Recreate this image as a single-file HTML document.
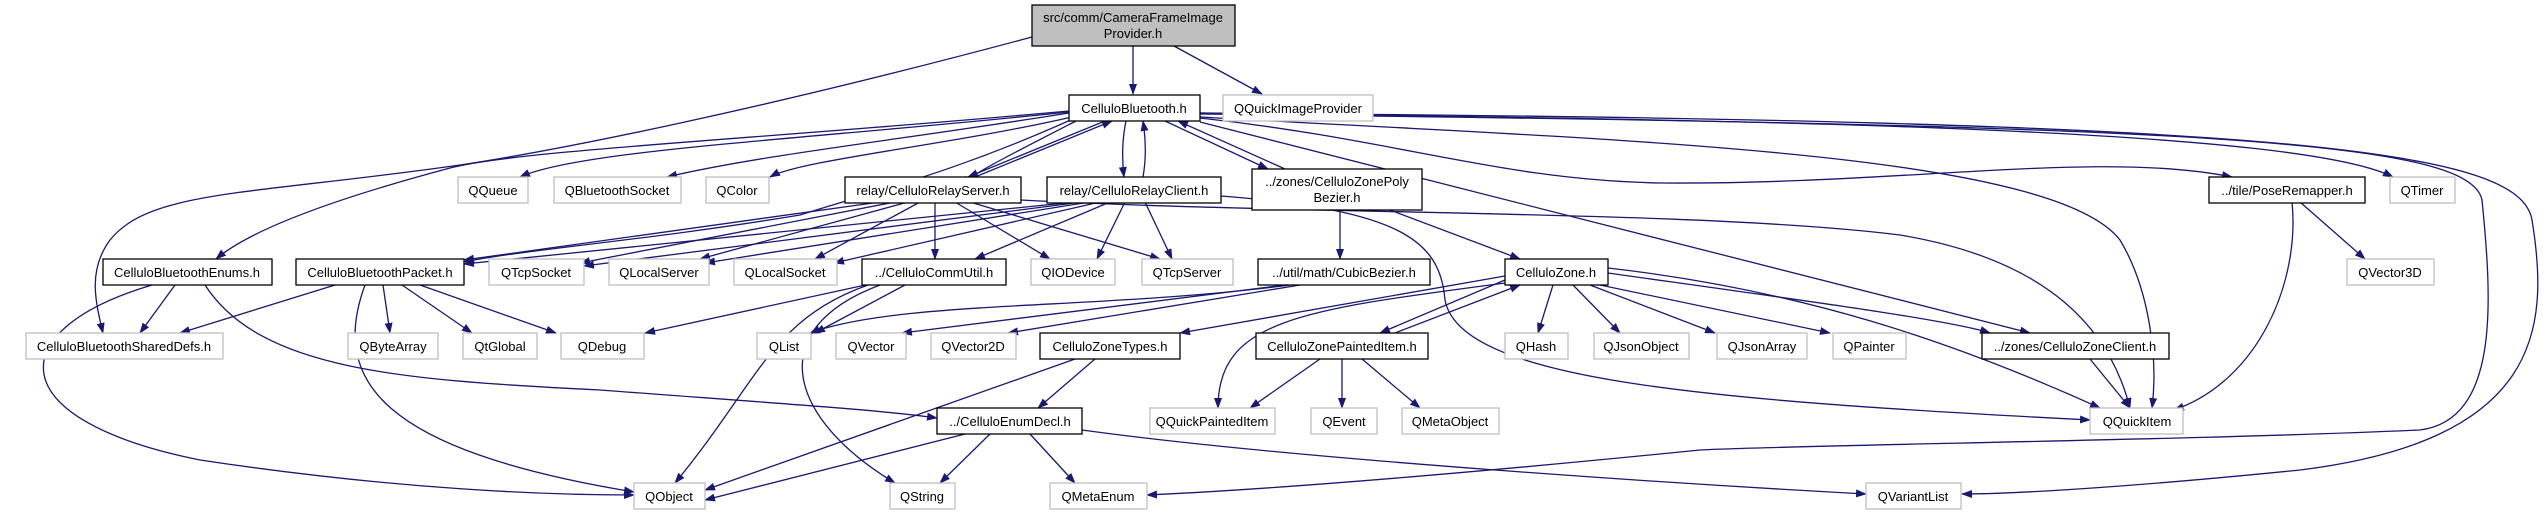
<!DOCTYPE html>
<html><head><meta charset="utf-8"><style>
html,body{margin:0;padding:0;background:#fff;}
svg{display:block;}
text{font-family:"Liberation Sans",Helvetica,Arial,sans-serif;font-size:13px;fill:#000;text-anchor:middle;}
.e{fill:none;stroke:#191970;stroke-width:1.3;marker-end:url(#a);}
.b{fill:#fff;stroke:#000;stroke-width:1.3;}
.g{fill:#fff;stroke:#bfbfbf;stroke-width:1.3;}
.s{fill:#404040;}
</style></head><body>
<svg width="2543" height="515" viewBox="0 0 2543 515" xmlns="http://www.w3.org/2000/svg">
<defs><marker id="a" markerUnits="userSpaceOnUse" markerWidth="11" markerHeight="8" refX="10" refY="4" orient="auto"><path d="M0,0 L11,4 L0,8 z" fill="#191970"/></marker></defs>
<g>
<path class="e" d="M1133,46 L1133,94"/>
<path class="e" d="M1174,46 L1262,94"/>
<path class="e" d="M1032,37 C760,110 560,150 460,165 C250,195 150,190 110,240 C88,270 95,300 103,333"/>
<path class="e" d="M1069,112 C800,140 580,150 520,177"/>
<path class="e" d="M1069,113 C900,140 760,155 667,177"/>
<path class="e" d="M1072,117 C950,145 800,160 770,177"/>
<path class="e" d="M1069,111 C750,140 520,150 450,168 C330,200 250,230 216,259"/>
<path class="e" d="M1075,118 C960,170 880,190 800,215 C650,240 520,250 464,262"/>
<path class="e" d="M1078,120 C1000,160 980,170 960,185"/>
<path class="e" d="M1105,121 L968,177"/>
<path class="e" d="M975,177 L1112,121"/>
<path class="e" d="M1126,121 C1122,140 1122,160 1124,177"/>
<path class="e" d="M1143,177 C1146,160 1146,140 1143,121"/>
<path class="e" d="M1165,121 L1268,169"/>
<path class="e" d="M1285,169 L1178,121"/>
<path class="e" d="M1200,118 C1400,140 1500,180 1660,183 C1900,185 2100,150 2232,177"/>
<path class="e" d="M1200,113 C1800,120 2300,130 2393,177"/>
<path class="e" d="M1200,117 C1600,140 2050,150 2120,240 C2150,290 2158,360 2152,408"/>
<path class="e" d="M1200,122 L2030,333"/>
<path class="e" d="M1200,114 C2200,125 2470,140 2482,200 C2492,300 2500,420 2420,430 C2200,440 1800,445 1700,450 C1500,470 1300,488 1147,495"/>
<path class="e" d="M1200,113 C2300,120 2520,150 2532,220 C2550,330 2540,440 2300,470 C2100,490 2000,494 1962,494"/>
<path class="e" d="M880,202 L464,260"/>
<path class="e" d="M895,202 L580,263"/>
<path class="e" d="M908,202 L700,259"/>
<path class="e" d="M920,202 L815,259"/>
<path class="e" d="M935,202 L935,259"/>
<path class="e" d="M955,202 L1050,259"/>
<path class="e" d="M970,202 L1160,259"/>
<path class="e" d="M1021,200 C1300,215 1700,210 1900,235 C2050,260 2110,330 2130,408"/>
<path class="e" d="M1075,202 L464,264"/>
<path class="e" d="M1082,202 L584,266"/>
<path class="e" d="M1090,202 L705,263"/>
<path class="e" d="M1100,202 L834,263"/>
<path class="e" d="M1110,202 L975,259"/>
<path class="e" d="M1125,202 L1097,259"/>
<path class="e" d="M1145,202 L1172,259"/>
<path class="e" d="M1221,196 C1400,210 1440,240 1445,300 C1460,380 1700,400 2090,420"/>
<path class="e" d="M1340,210 L1340,259"/>
<path class="e" d="M1390,210 L1520,259"/>
<path class="e" d="M2300,202 L2365,259"/>
<path class="e" d="M2292,202 C2300,280 2260,380 2174,410"/>
<path class="e" d="M175,285 L140,333"/>
<path class="e" d="M152,285 C0,330 0,420 200,460 C400,490 550,495 634,495"/>
<path class="e" d="M205,285 C260,370 400,380 600,390 C800,405 880,410 937,418"/>
<path class="e" d="M335,285 L180,333"/>
<path class="e" d="M383,285 L390,333"/>
<path class="e" d="M402,285 L472,333"/>
<path class="e" d="M420,285 L556,333"/>
<path class="e" d="M365,285 C330,380 380,450 634,492"/>
<path class="e" d="M870,284 L645,333"/>
<path class="e" d="M905,285 L815,333"/>
<path class="e" d="M868,285 C770,320 760,380 675,483"/>
<path class="e" d="M880,285 C760,330 790,420 895,483"/>
<path class="e" d="M1290,285 C1100,310 900,300 810,333"/>
<path class="e" d="M1285,285 L902,333"/>
<path class="e" d="M1300,285 L1008,333"/>
<path class="e" d="M1505,276 L1180,333"/>
<path class="e" d="M1505,280 L1380,333"/>
<path class="e" d="M1395,333 L1520,285"/>
<path class="e" d="M1505,283 C1300,310 1218,320 1218,408"/>
<path class="e" d="M1553,285 L1538,333"/>
<path class="e" d="M1573,285 L1620,333"/>
<path class="e" d="M1590,285 L1715,333"/>
<path class="e" d="M1600,285 L1830,333"/>
<path class="e" d="M1608,273 C1800,300 1950,320 1990,333"/>
<path class="e" d="M1608,268 C1800,290 1950,340 2100,408"/>
<path class="e" d="M1095,359 L1038,408"/>
<path class="e" d="M1075,359 L705,490"/>
<path class="e" d="M1320,359 L1250,408"/>
<path class="e" d="M1342,359 L1342,408"/>
<path class="e" d="M1362,359 L1420,408"/>
<path class="e" d="M2090,359 L2130,408"/>
<path class="e" d="M965,434 L705,500"/>
<path class="e" d="M990,434 L940,483"/>
<path class="e" d="M1030,434 L1075,483"/>
<path class="e" d="M1082,430 C1300,460 1700,485 1866,494"/>
</g>
<g>
<rect x="1032" y="5" width="203" height="41" fill="#bfbfbf" stroke="#000" stroke-width="1.3"/>
<text x="1133" y="22">src/comm/CameraFrameImage</text><text x="1133" y="38">Provider.h</text>
<rect class="b" x="1069" y="95" width="131" height="26"/><text x="1134" y="113">CelluloBluetooth.h</text>
<rect class="g" x="1223" y="95" width="150" height="26"/><text x="1298" y="113">QQuickImageProvider</text>
<rect class="g" x="458" y="177" width="70" height="26"/><text x="493" y="195">QQueue</text>
<rect class="g" x="554" y="177" width="127" height="26"/><text x="617" y="195">QBluetoothSocket</text>
<rect class="g" x="706" y="177" width="63" height="26"/><text x="737" y="195">QColor</text>
<rect class="b" x="845" y="177" width="176" height="26"/><text x="933" y="195">relay/CelluloRelayServer.h</text>
<rect class="b" x="1047" y="177" width="174" height="26"/><text x="1134" y="195">relay/CelluloRelayClient.h</text>
<rect class="b" x="1252" y="169" width="170" height="41"/><text x="1337" y="186">../zones/CelluloZonePoly</text><text x="1337" y="202">Bezier.h</text>
<rect class="b" x="2209" y="177" width="156" height="26"/><text x="2287" y="195">../tile/PoseRemapper.h</text>
<rect class="g" x="2390" y="177" width="65" height="26"/><text x="2422" y="195">QTimer</text>
<rect class="b" x="103" y="259" width="169" height="26"/><text x="187" y="277">CelluloBluetoothEnums.h</text>
<rect class="b" x="296" y="259" width="168" height="26"/><text x="380" y="277">CelluloBluetoothPacket.h</text>
<rect class="g" x="489" y="259" width="95" height="26"/><text x="536" y="277">QTcpSocket</text>
<rect class="g" x="609" y="259" width="100" height="26"/><text x="659" y="277">QLocalServer</text>
<rect class="g" x="734" y="259" width="103" height="26"/><text x="785" y="277">QLocalSocket</text>
<rect class="b" x="862" y="259" width="144" height="26"/><text x="934" y="277">../CelluloCommUtil.h</text>
<rect class="g" x="1031" y="259" width="84" height="26"/><text x="1073" y="277">QIODevice</text>
<rect class="g" x="1142" y="259" width="91" height="26"/><text x="1187" y="277">QTcpServer</text>
<rect class="b" x="1258" y="259" width="172" height="26"/><text x="1344" y="277">../util/math/CubicBezier.h</text>
<rect class="b" x="1505" y="259" width="103" height="26"/><text x="1556" y="277">CelluloZone.h</text>
<rect class="g" x="2347" y="259" width="87" height="26"/><text x="2390" y="277">QVector3D</text>
<rect class="g" x="26" y="333" width="197" height="26"/><text x="124" y="351">CelluloBluetoothSharedDefs.h</text>
<rect class="g" x="348" y="333" width="90" height="26"/><text x="393" y="351">QByteArray</text>
<rect class="g" x="463" y="333" width="74" height="26"/><text x="500" y="351">QtGlobal</text>
<rect class="g" x="561" y="333" width="83" height="26"/><text x="602" y="351">QDebug</text>
<rect class="g" x="757" y="333" width="54" height="26"/><text x="784" y="351">QList</text>
<rect class="g" x="836" y="333" width="70" height="26"/><text x="871" y="351">QVector</text>
<rect class="g" x="931" y="333" width="85" height="26"/><text x="973" y="351">QVector2D</text>
<rect class="b" x="1040" y="333" width="140" height="26"/><text x="1110" y="351">CelluloZoneTypes.h</text>
<rect class="b" x="1256" y="333" width="172" height="26"/><text x="1342" y="351">CelluloZonePaintedItem.h</text>
<rect class="g" x="1505" y="333" width="63" height="26"/><text x="1536" y="351">QHash</text>
<rect class="g" x="1594" y="333" width="95" height="26"/><text x="1641" y="351">QJsonObject</text>
<rect class="g" x="1717" y="333" width="90" height="26"/><text x="1762" y="351">QJsonArray</text>
<rect class="g" x="1833" y="333" width="73" height="26"/><text x="1869" y="351">QPainter</text>
<rect class="b" x="1982" y="333" width="187" height="26"/><text x="2075" y="351">../zones/CelluloZoneClient.h</text>
<rect class="b" x="937" y="408" width="145" height="26"/><text x="1010" y="426">../CelluloEnumDecl.h</text>
<rect class="g" x="1150" y="408" width="125" height="26"/><text x="1212" y="426">QQuickPaintedItem</text>
<rect class="g" x="1311" y="408" width="66" height="26"/><text x="1344" y="426">QEvent</text>
<rect class="g" x="1402" y="408" width="97" height="26"/><text x="1450" y="426">QMetaObject</text>
<rect class="g" x="2090" y="408" width="93" height="26"/><text x="2137" y="426">QQuickItem</text>
<rect class="g" x="634" y="483" width="71" height="26"/><text x="669" y="501">QObject</text>
<rect class="g" x="890" y="483" width="65" height="26"/><text x="922" y="501">QString</text>
<rect class="g" x="1050" y="483" width="97" height="26"/><text x="1098" y="501">QMetaEnum</text>
<rect class="g" x="1866" y="483" width="95" height="26"/><text x="1913" y="501">QVariantList</text>
</g>
</svg>
</body></html>
